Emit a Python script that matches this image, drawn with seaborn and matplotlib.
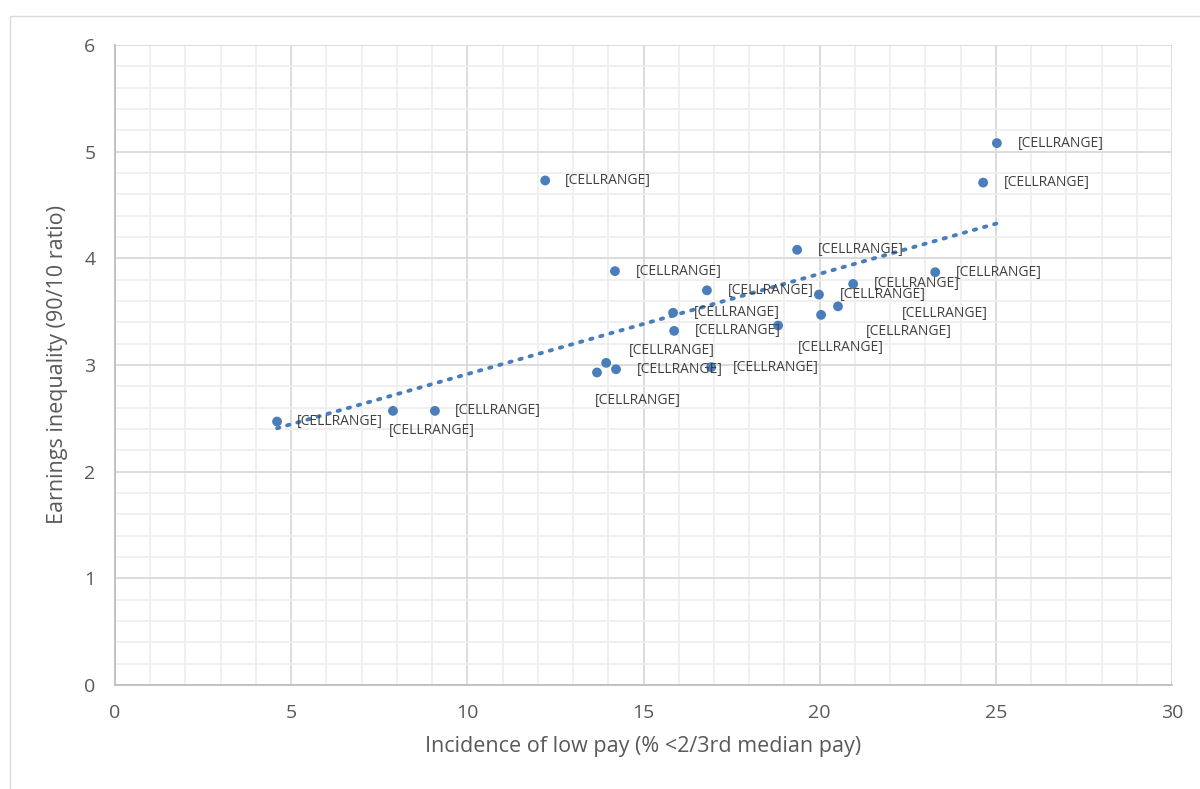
import seaborn as sns
import matplotlib.pyplot as plt
import numpy as np
import pandas as pd
from matplotlib.lines import Line2D

# low pay incidence (% below 2/3 median) vs 90/10 earnings ratio
low_pay = [4.60, 7.89, 9.08, 12.21, 13.68, 13.94, 14.22, 14.19, 15.84, 15.87, 16.80,
           16.92, 18.82, 19.36, 19.98, 20.04, 20.52, 20.95, 23.28, 24.64, 25.03]
ratio_90_10 = [2.47, 2.57, 2.57, 4.73, 2.93, 3.02, 2.96, 3.88, 3.49, 3.32, 3.70,
               2.98, 3.37, 4.08, 3.66, 3.47, 3.55, 3.76, 3.87, 4.71, 5.08]
point_labels = ["[CELLRANGE]"] * len(low_pay)
# label offsets in pixels (dx, dy downwards)
label_offsets = [(20, 0), (-4, 20), (20, 0), (20, 0), (-2, 28), (23, -12), (21, 0),
                 (21, 0), (21, 0), (21, 0), (21, 0), (22, 0), (20, 22), (21, 0),
                 (21, 0), (45, 17), (64, 7), (21, 0), (21, 0), (21, 0), (21, 0)]

df = pd.DataFrame({"low_pay": low_pay, "ratio": ratio_90_10})

blue = "#4A7EBB"
grey_txt = "#595959"

sns.set_style("white")
plt.rcParams['font.family'] = ['Open Sans', 'DejaVu Sans']

fig = plt.figure(figsize=(12, 7.89), dpi=100)
ax = fig.add_axes([115 / 1200, 1 - 685 / 789, (1172 - 115) / 1200, (685 - 45) / 789])

# chart area border
fig.add_artist(Line2D([10 / 1200, 10 / 1200], [0, 1 - 16 / 789], transform=fig.transFigure, color="#d9d9d9", lw=1))
fig.add_artist(Line2D([10 / 1200, 1], [1 - 16 / 789, 1 - 16 / 789], transform=fig.transFigure, color="#d9d9d9", lw=1))

sns.regplot(data=df, x="low_pay", y="ratio", ax=ax, ci=None, scatter=False, truncate=True,
            line_kws=dict(color=blue, lw=2.8, ls=(0, (0.6, 2.1)), dash_capstyle="round"))
sns.scatterplot(data=df, x="low_pay", y="ratio", ax=ax, color=blue, s=50, edgecolor="none", zorder=3)

for x, y, t, (dx, dy) in zip(low_pay, ratio_90_10, point_labels, label_offsets):
    ax.annotate(t, (x, y), xytext=(dx * 0.72, -dy * 0.72), textcoords="offset points",
                ha="left", va="center", fontsize=10, color="#404040")

ax.set_xlim(0, 30)
ax.set_ylim(0, 6)
ax.set_xticks(np.arange(0, 31, 5))
ax.set_yticks(np.arange(0, 7, 1))
ax.set_xticks(np.arange(0, 31, 1), minor=True)
ax.set_yticks(np.arange(0, 6.01, 0.2), minor=True)
ax.grid(which="major", color="#d9d9d9", lw=1.3)
ax.grid(which="minor", color="#eeeeee", lw=1.3)
ax.set_axisbelow(True)

for s in ["top", "right"]:
    ax.spines[s].set_visible(False)
for s in ["left", "bottom"]:
    ax.spines[s].set_color("#bfbfbf")
    ax.spines[s].set_linewidth(1.3)
ax.tick_params(which="major", length=6, width=1.3, color="#bfbfbf", labelsize=14,
               labelcolor=grey_txt, pad=8, direction="out")
ax.tick_params(which="minor", length=0)

ax.set_xlabel("Incidence of low pay (% <2/3rd median pay)", fontsize=15.5, color=grey_txt, labelpad=10)
ax.set_ylabel("Earnings inequality (90/10 ratio)", fontsize=15.5, color=grey_txt, labelpad=12)

fig.savefig("out.png", dpi=100)
